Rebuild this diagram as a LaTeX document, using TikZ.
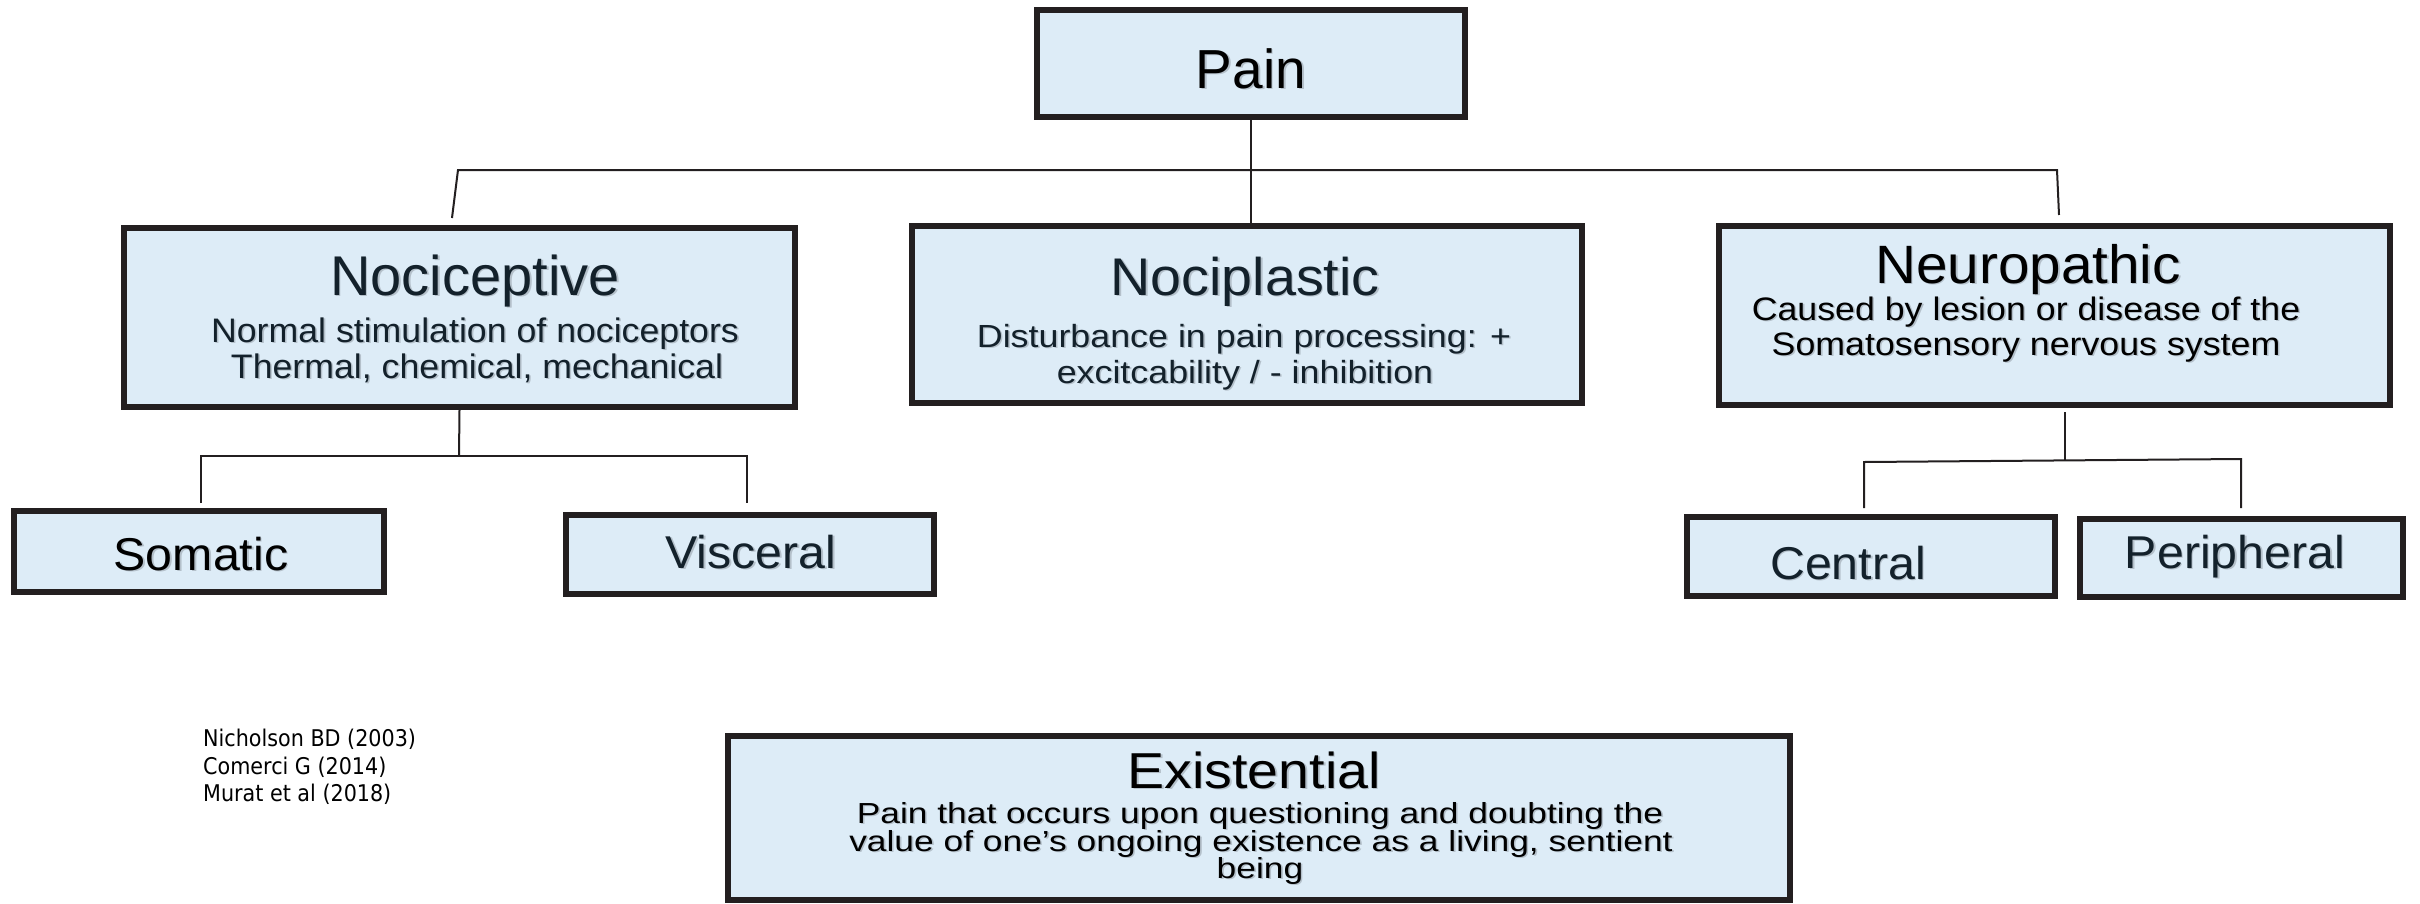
\documentclass[tikz,border=0pt]{standalone}
\usepackage{fontspec}
\setmainfont{Liberation Sans}
% Arial-metric faces at a few horizontal widths
\newfontfamily\fsA{Liberation Sans}
\newfontfamily\fsB[FakeStretch=1.05]{Liberation Sans}
\newfontfamily\fsC[FakeStretch=1.10]{Liberation Sans}
\newfontfamily\fsD[FakeStretch=1.12]{Liberation Sans}
\newfontfamily\fsE[FakeStretch=1.22]{Liberation Sans}
\newfontfamily\reffont[FakeStretch=0.9]{DejaVu Sans}
\definecolor{boxfill}{HTML}{DDECF7}
\definecolor{boxline}{HTML}{231F20}
\definecolor{ink}{HTML}{13212B}
\definecolor{shade}{HTML}{B4C0CA}
% text with a soft drop shadow behind it
\newcommand\shadowed[1]{\makebox[0pt][l]{\hspace{1.6pt}\raisebox{-1.6pt}{\textcolor{shade}{#1}}}#1}

\begin{document}
\begin{tikzpicture}[x=1pt,y=-1pt,
  pbox/.style={draw=boxline, line width=6pt, fill=boxfill, rectangle, inner sep=0pt},
  link/.style={draw=boxline, line width=2pt},
  lbl/.style={anchor=base, inner sep=0pt, text=black},
  navy/.style={text=ink},
]
\useasboundingbox (0,0) rectangle (2420,903);

% ---- boxes ----
\node[pbox, minimum width=428pt, minimum height=107pt] (pain) at (1251,63.5) {};
\node[pbox, minimum width=671pt, minimum height=179pt] (nociceptive) at (459.5,317.5) {};
\node[pbox, minimum width=670pt, minimum height=177pt] (nociplastic) at (1247,314.5) {};
\node[pbox, minimum width=671pt, minimum height=179pt] (neuropathic) at (2054.5,315.5) {};
\node[pbox, minimum width=370pt, minimum height=81pt] (somatic) at (199,551.5) {};
\node[pbox, minimum width=368pt, minimum height=79pt] (visceral) at (750,554.5) {};
\node[pbox, minimum width=368pt, minimum height=79pt] (central) at (1871,556.5) {};
\node[pbox, minimum width=323pt, minimum height=78pt] (peripheral) at (2241.5,558) {};
\node[pbox, minimum width=1062pt, minimum height=164pt] (existential) at (1259,818) {};

% ---- connectors: top level ----
\coordinate (barL) at (458,170);
\coordinate (barR) at (2057,170);
\coordinate (tickL) at (452,218);
\coordinate (tickR) at (2059,215);
\draw[link] (pain.south) -- (pain.south |- nociplastic.north);
\draw[link] (tickL) -- (barL) -- (barR) -- (tickR);

% ---- connectors: nociceptive branch ----
\coordinate (nsplit) at (459,456);
\coordinate (nbarL) at (201,456);
\coordinate (nbarR) at (747,456);
\coordinate (nendL) at (201,503);
\coordinate (nendR) at (747,503);
\draw[link] (nociceptive.south) -- (nsplit);
\draw[link] (nendL) -- (nbarL) -- (nbarR) -- (nendR);

% ---- connectors: neuropathic branch ----
\coordinate (psplit) at (2065,459.5);
\coordinate (pbarL) at (1864,462);
\coordinate (pbarR) at (2241,459);
\coordinate (pendL) at (1864,508);
\coordinate (pendR) at (2241,508);
\draw[link] ([xshift=10.5pt,yshift=-4pt]neuropathic.south) -- (psplit);
\draw[link] (pendL) -- (pbarL) -- (pbarR) -- (pendR);

% ---- labels ----
\node[lbl, font=\fsA\fontsize{55}{55}\selectfont] (painT) at (1251,88) {\shadowed{Pain}};

\node[lbl, navy, font=\fsA\fontsize{56}{56}\selectfont] (nociT) at (475,295) {\shadowed{Nociceptive}};
\node[lbl, navy, font=\fsB\fontsize{34}{34}\selectfont] (nociA) at (475,342) {\shadowed{Normal stimulation of nociceptors}};
\node[lbl, navy, font=\fsB\fontsize{34}{34}\selectfont] (nociB) at (477,378) {\shadowed{Thermal, chemical, mechanical}};

\node[lbl, navy, font=\fsB\fontsize{53}{53}\selectfont] (plastT) at (1245,295) {\shadowed{Nociplastic}};
\node[lbl, navy, font=\fsD\fontsize{32}{32}\selectfont] (plastA) at (1244,347) {\shadowed{Disturbance in pain processing: +}};
\node[lbl, navy, font=\fsD\fontsize{32}{32}\selectfont] (plastB) at (1245,383) {\shadowed{excitcability / - inhibition}};

\node[lbl, font=\fsB\fontsize{54}{54}\selectfont] (neuroT) at (2028,283) {\shadowed{Neuropathic}};
\node[lbl, font=\fsC\fontsize{32.5}{32.5}\selectfont] (neuroA) at (2026,320) {\shadowed{Caused by lesion or disease of the}};
\node[lbl, font=\fsC\fontsize{32.5}{32.5}\selectfont] (neuroB) at (2026,355) {\shadowed{Somatosensory nervous system}};

\node[lbl, font=\fsB\fontsize{46}{46}\selectfont] (somaT) at (201,570) {\shadowed{Somatic}};
\node[lbl, navy, font=\fsB\fontsize{46}{46}\selectfont] (viscT) at (751,568) {\shadowed{Visceral}};
\node[lbl, navy, font=\fsB\fontsize{46}{46}\selectfont] (centT) at (1848,579) {\shadowed{Central}};
\node[lbl, navy, font=\fsB\fontsize{46}{46}\selectfont] (periT) at (2235,568) {\shadowed{Peripheral}};

\node[lbl, font=\fsC\fontsize{50.5}{50.5}\selectfont] (existT) at (1254,788) {\shadowed{Existential}};
\node[lbl, font=\fsE\fontsize{29}{29}\selectfont] (existA) at (1260,823) {\shadowed{Pain that occurs upon questioning and doubting the}};
\node[lbl, font=\fsE\fontsize{29}{29}\selectfont] (existB) at (1261,851) {\shadowed{value of one’s ongoing existence as a living, sentient}};
\node[lbl, font=\fsE\fontsize{29}{29}\selectfont] (existC) at (1260,878) {\shadowed{being}};

% ---- references ----
\node[lbl, anchor=base west, font=\reffont\fontsize{23}{23}\selectfont] (ref1) at (203,746) {Nicholson BD (2003)};
\node[lbl, anchor=base west, font=\reffont\fontsize{23}{23}\selectfont] (ref2) at (203,774) {Comerci G (2014)};
\node[lbl, anchor=base west, font=\reffont\fontsize{23}{23}\selectfont] (ref3) at (203,801) {Murat et al (2018)};
\end{tikzpicture}
\end{document}
